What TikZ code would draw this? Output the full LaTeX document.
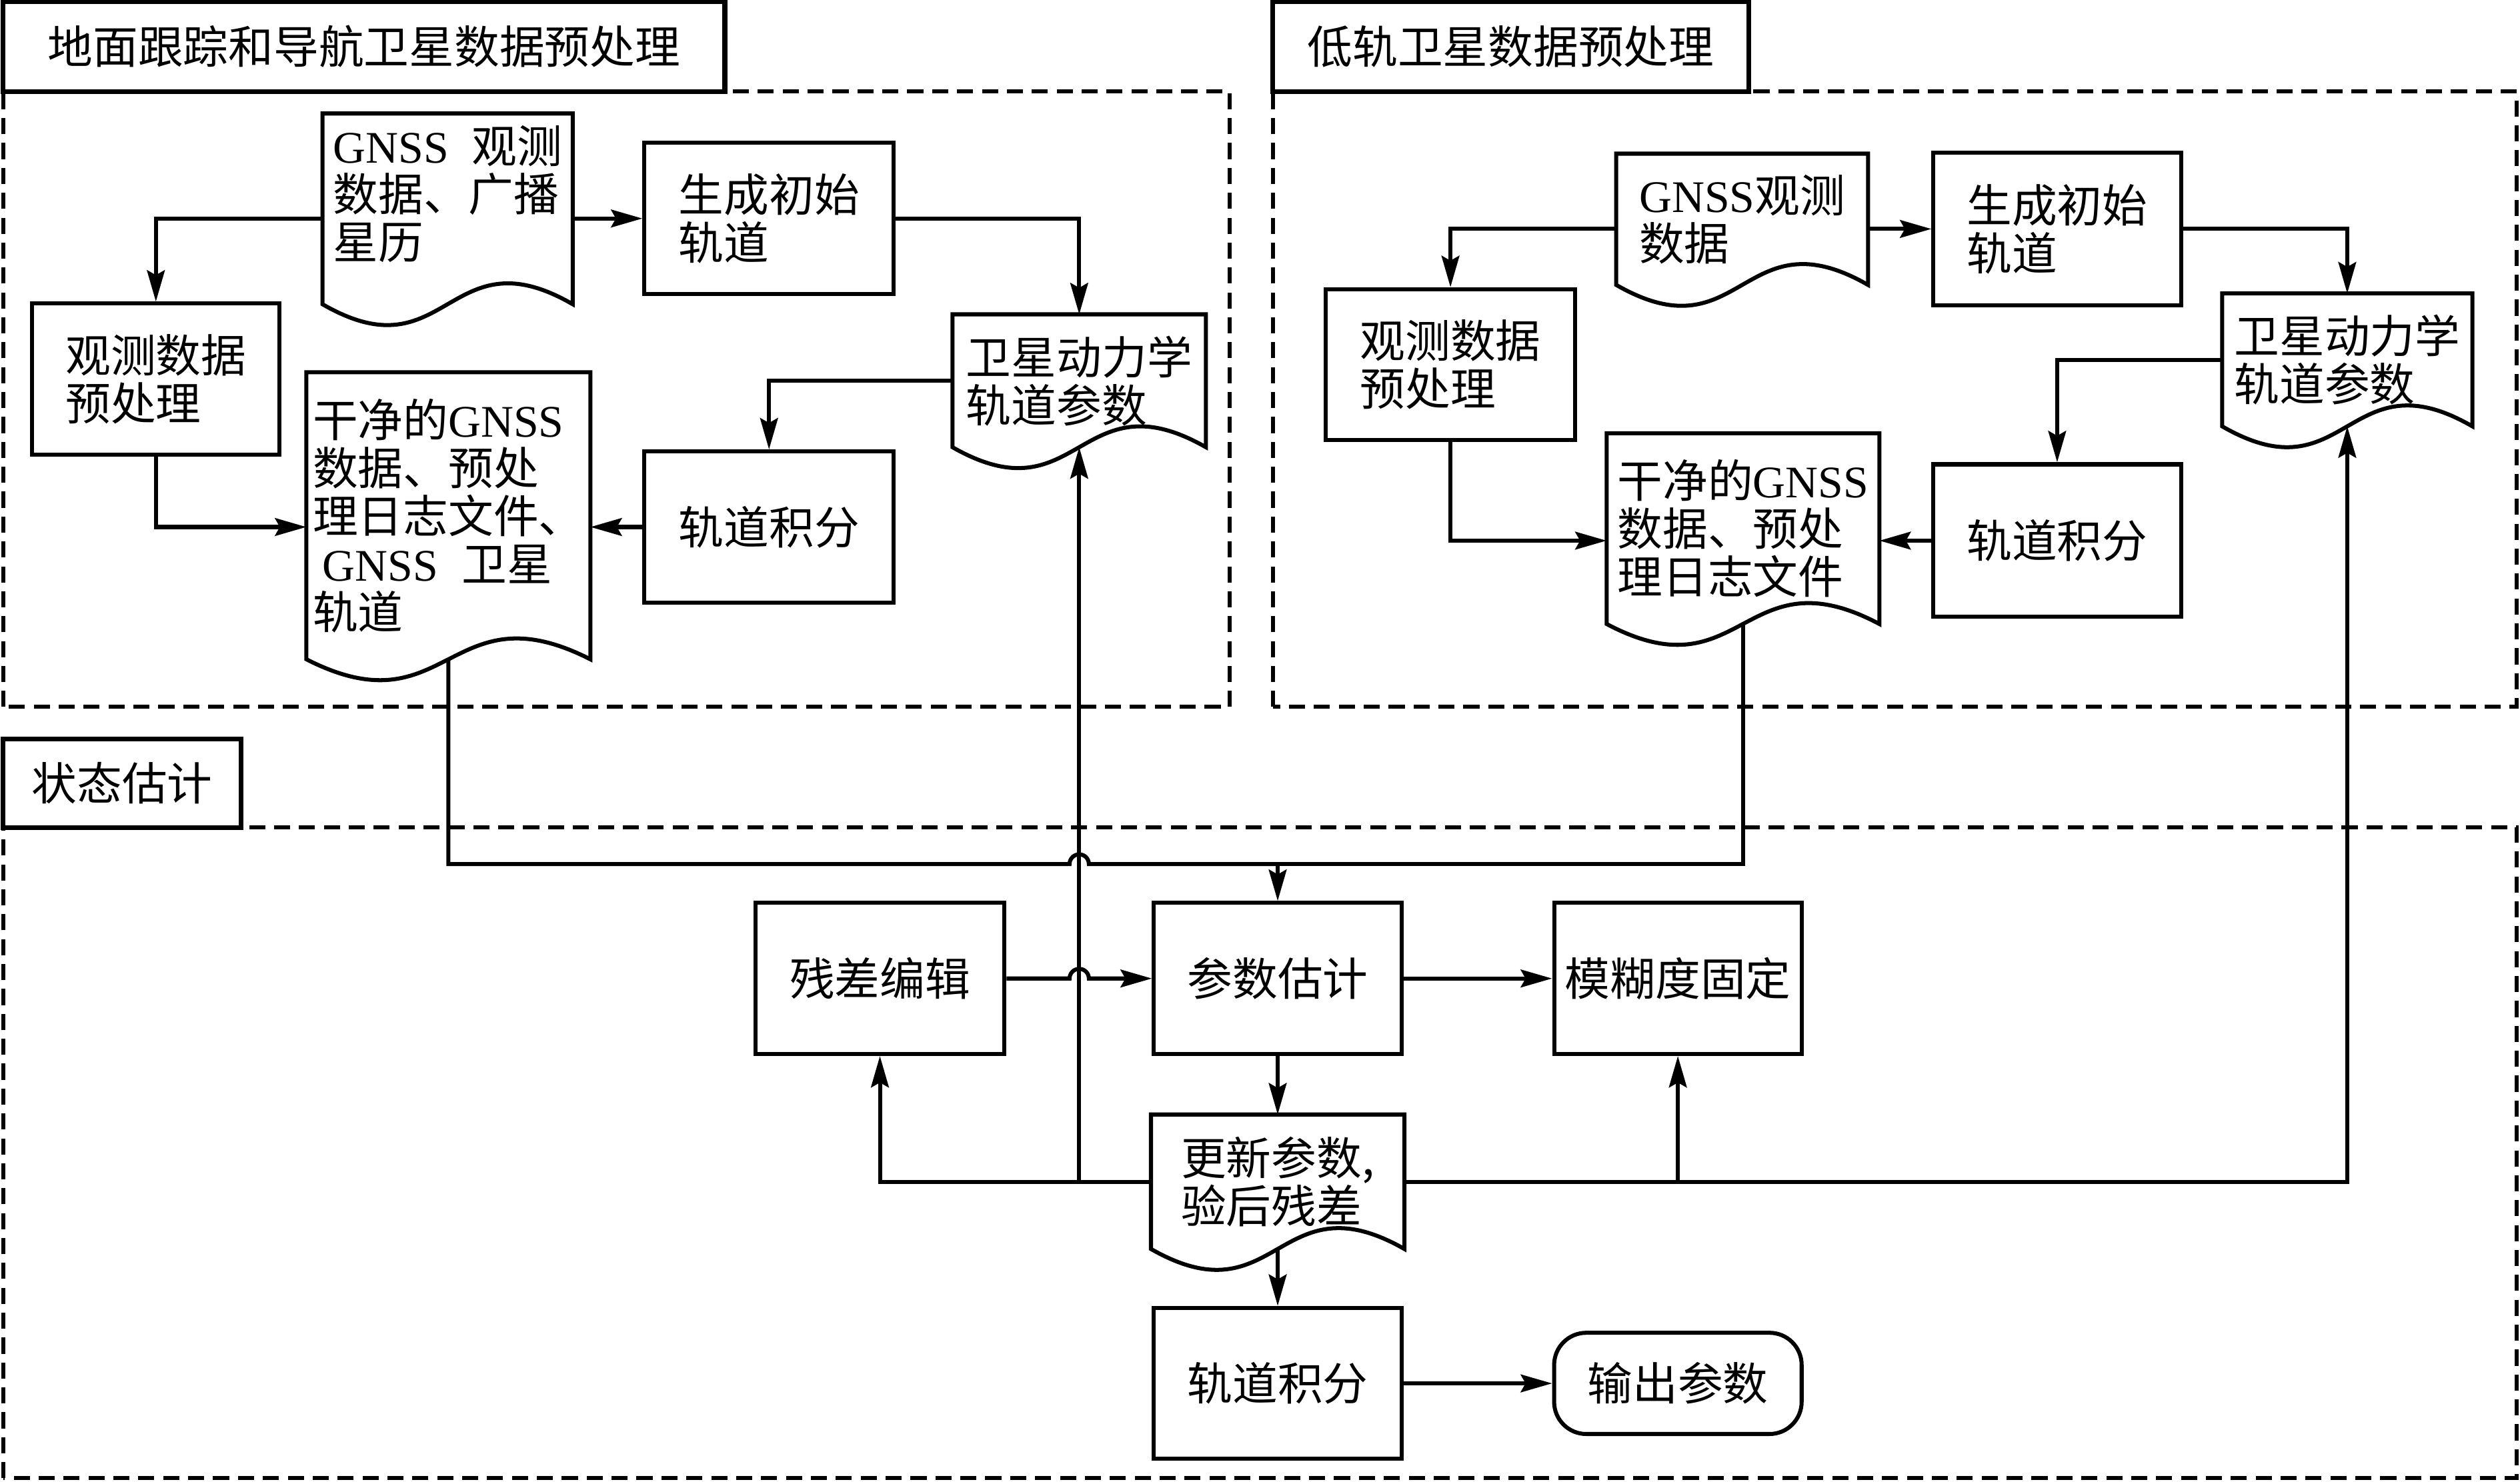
\documentclass[tikz,border=0pt]{standalone}
\usepackage{fontspec}
\setmainfont{Liberation Serif}
\newfontfamily\cjk{Noto Sans CJK SC}
\usetikzlibrary{arrows.meta,calc}

\newcommand\cnfont{\cjk\fontsize{16pt}{17pt}\selectfont}
\newcommand\gnss{{\rmfamily GNSS}}

\tikzset{
  box/.style={draw, line width=0.05cm, align=left, inner sep=0.08cm, font=\cnfont},
  doc/.style={align=left, inner sep=0.05cm, font=\cnfont},
  docline/.style={line width=0.05cm},
  title/.style={draw, fill=white, line width=0.06cm, inner sep=0.1cm, font=\cnfont},
  frame/.style={line width=0.05cm, dash pattern=on 0.2cm off 0.11cm},
  line/.style={line width=0.05cm},
  conn/.style={line width=0.05cm, -{Stealth[length=0.39cm,width=0.22cm,inset=0.06cm]}},
}

% document shape drawn round a named node
\newcommand\docwave[1]{%
  \draw [docline] (#1.north west) -- (#1.north east) -- (#1.south east)
    .. controls ($(#1.south)+(0,0.9)$) and ($(#1.south)+(0,-0.9)$) .. (#1.south west) -- cycle;%
}

\begin{document}
\begin{tikzpicture}
            \useasboundingbox (0,0) rectangle (31.36,18.44);
            
            % Drawing dashed frames
            \draw [frame] (0.04,9.64) rectangle (15.30,17.30);%
            \draw [frame] (15.84,9.64) rectangle (31.32,17.30);%
            \draw [frame] (0.04,0.04) rectangle (31.32,8.14);%
            
            % Drawing frame titles
            \node [title, minimum width=8.98cm, minimum height=1.12cm] (tground) at (4.53,17.86) {地面跟踪和导航卫星数据预处理};%
            \node [title, minimum width=5.92cm, minimum height=1.12cm] (tleo) at (18.80,17.86) {低轨卫星数据预处理};%
            \node [title, minimum width=2.96cm, minimum height=1.10cm] (test) at (1.52,8.69) {状态估计};%
            
            % Ground tracking and navigation satellites
            \node [doc, minimum width=3.10cm, minimum height=2.36cm, text width=2.85cm, text depth=1.6cm] (gdoc) at (5.57,15.84) {\gnss\hfill 观测\\数据、广播\\星历};%
            \docwave{gdoc}
            \node [box, minimum width=3.10cm, minimum height=1.88cm] (ginit) at (9.57,15.72) {生成初始\\轨道};%
            \node [doc, minimum width=3.14cm, minimum height=1.64cm] (gdyn) at (13.43,13.70) {卫星动力学\\轨道参数};%
            \docwave{gdyn}
            \node [box, minimum width=3.08cm, minimum height=1.88cm] (gpre) at (1.94,13.72) {观测数据\\预处理};%
            \node [doc, minimum width=3.52cm, minimum height=3.56cm] (gclean) at (5.58,12.02) {干净的\gnss\\数据、预处\\理日志文件、\\\hspace*{0.12cm}\gnss\hspace{0.3cm}卫星\\轨道};%
            \docwave{gclean}
            \node [box, minimum width=3.10cm, minimum height=1.88cm] (gint) at (9.57,11.88) {轨道积分};%
            
            % Low earth orbit satellites
            \node [doc, minimum width=3.12cm, minimum height=1.62cm] (ldoc) at (21.68,15.71) {\gnss 观测\\数据};%
            \docwave{ldoc}
            \node [box, minimum width=3.08cm, minimum height=1.90cm] (linit) at (25.60,15.59) {生成初始\\轨道};%
            \node [doc, minimum width=3.10cm, minimum height=1.64cm] (ldyn) at (29.21,13.96) {卫星动力学\\轨道参数};%
            \docwave{ldyn}
            \node [box, minimum width=3.10cm, minimum height=1.88cm] (lpre) at (18.05,13.90) {观测数据\\预处理};%
            \node [doc, minimum width=3.38cm, minimum height=2.36cm] (lclean) at (21.69,11.86) {干净的\gnss\\数据、预处\\理日志文件};%
            \docwave{lclean}
            \node [box, minimum width=3.08cm, minimum height=1.90cm] (lint) at (25.60,11.71) {轨道积分};%
            
            % State estimation
            \node [box, minimum width=3.10cm, minimum height=1.88cm] (redit) at (10.95,6.26) {残差编辑};%
            \node [box, minimum width=3.08cm, minimum height=1.88cm] (pest) at (15.90,6.26) {参数估计};%
            \node [box, minimum width=3.08cm, minimum height=1.88cm] (amb) at (20.88,6.26) {模糊度固定};%
            \node [doc, minimum width=3.14cm, minimum height=1.66cm] (upd) at (15.90,3.73) {更新参数,\\验后残差};%
            \docwave{upd}
            \node [box, minimum width=3.08cm, minimum height=1.88cm] (oint) at (15.90,1.22) {轨道积分};%
            \node [box, rounded corners=0.4cm, minimum width=3.08cm, minimum height=1.26cm] (out) at (20.88,1.22) {输出参数};%
            
            % Connectors in ground group
            \draw [conn] (gdoc.east |- ginit.west) -- (ginit.west);%
            \draw [conn] (gdoc.west |- ginit.west) -| (gpre.north);%
            \draw [conn] (ginit.east) -| (gdyn.north);%
            \draw [conn] (gdyn.west) -| (gint.north);%
            \draw [conn] (gint.west) -- (gclean.east |- gint.west);%
            \draw [conn] (gpre.south) |- (gclean.west |- gint.west);%
            
            % Connectors in LEO group
            \draw [conn] (ldoc.east |- linit.west) -- (linit.west);%
            \draw [conn] (ldoc.west |- linit.west) -| (lpre.north);%
            \draw [conn] (linit.east) -| (ldyn.north);%
            \draw [conn] (ldyn.west) -| (lint.north);%
            \draw [conn] (lint.west) -- (lclean.east |- lint.west);%
            \draw [conn] (lpre.south) |- (lclean.west |- lint.west);%
            
            % Merging clean data into estimation
            \coordinate (merge) at ($(pest.north)+(0,0.46)$);%
            \draw [line] (gclean.south) |- ($(gdyn.south |- merge)+(-0.12,0)$) arc [start angle=180, end angle=0, radius=0.12] -- (merge);%
            \draw [line] (lclean.south) |- (merge);%
            \draw [conn] (merge) -- (pest.north);%
            
            % Connectors in estimation
            \draw [conn] (redit.east) -- ($(gdyn.south |- redit.east)+(-0.12,0)$) arc [start angle=180, end angle=0, radius=0.12] -- (pest.west);%
            \draw [conn] (pest.east) -- (amb.west);%
            \draw [conn] (pest.south) -- (upd.north);%
            \draw [conn] (upd.west) -| (redit.south);%
            \draw [conn] (gdyn.south |- upd.west) -- (gdyn.south);%
            \draw [conn] (upd.east) -| (ldyn.south);%
            \draw [conn] (amb.south |- upd.east) -- (amb.south);%
            \draw [conn] (upd.south) -- (oint.north);%
            \draw [conn] (oint.east) -- (out.west);%
        \end{tikzpicture}
\end{document}
